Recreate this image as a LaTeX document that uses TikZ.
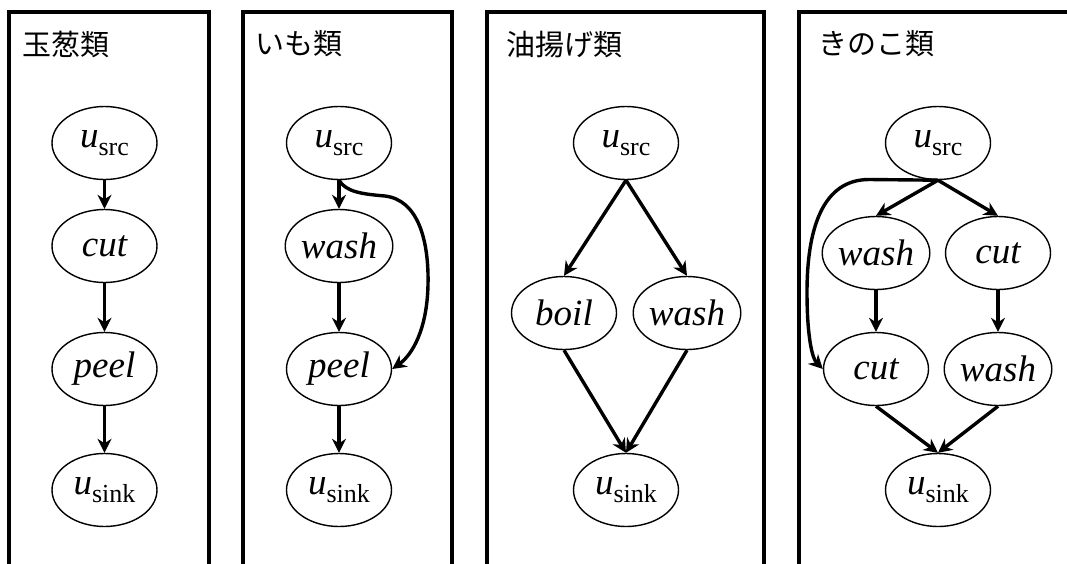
\documentclass[tikz,border=0pt]{standalone}
\usepackage{fontspec}
\setmainfont{Liberation Serif}
\newfontfamily\jpfont{Noto Sans CJK JP}
\usetikzlibrary{shapes.geometric,arrows.meta}
\newcommand{\usub}[1]{\textit{u}\raisebox{-8pt}{\fontsize{26}{26}\selectfont\upshape #1}}
\begin{document}
\begin{tikzpicture}[x=1pt,y=-1pt,
  nd/.style={ellipse, draw, line width=1.4pt, minimum width=105pt, minimum height=73pt, inner sep=0pt, font=\fontsize{37}{37}\selectfont\itshape},
  edge/.style={line width=3.4pt, -{Stealth[length=14pt,width=14pt,inset=4.5pt]}},
  panel/.style={line width=3.2pt},
  ttl/.style={anchor=west, inner sep=0pt, font=\jpfont\fontsize{29}{29}\selectfont}]
\useasboundingbox (0,0) rectangle (1067,563);
\clip (0,0) rectangle (1067,563);
% panels
\draw[panel] (9,575) -- (9,12) -- (209,12) -- (209,575);
\draw[panel] (243,575) -- (243,12) -- (452,12) -- (452,575);
\draw[panel] (487,575) -- (487,12) -- (764,12) -- (764,575);
\draw[panel] (799,575) -- (799,12) -- (1080,12);
% titles
\node[ttl] (t1) at (22,44) {玉葱類};
\node[ttl] (t2) at (255,44) {いも類};
\node[ttl] (t3) at (506,44) {油揚げ類};
\node[ttl] (t4) at (818,44) {きのこ類};
% panel 1
\node[nd] (a1) at (104.5,143) {\usub{src}};
\node[nd] (a2) at (104.5,246) {cut};
\node[nd] (a3) at (104.5,369) {peel};
\node[nd] (a4) at (104.5,490) {\usub{sink}};
\draw[edge] (a1) -- (a2);
\draw[edge] (a2) -- (a3);
\draw[edge] (a3) -- (a4);
% panel 2
\node[nd] (b1) at (339,143) {\usub{src}};
\node[nd] (b2) at (339,246) {wash};
\node[nd] (b3) at (339,369) {peel};
\node[nd] (b4) at (339,490) {\usub{sink}};
\draw[edge] (b1) -- (b2);
\draw[edge] (b2) -- (b3);
\draw[edge] (b3) -- (b4);
\draw[edge] (b1.south) .. controls (346,192) and (362,194) .. (385,196)
  .. controls (418,200) and (429,240) .. (428,285)
  .. controls (427,330) and (412,355) .. (b3.east);
% panel 3
\node[nd] (c1) at (626,143) {\usub{src}};
\node[nd] (c2) at (564,313) {boil};
\node[nd] (c3) at (687,313) {wash};
\node[nd] (c4) at (626,490) {\usub{sink}};
\draw[edge] (c1.south) -- (c2.north);
\draw[edge] (c1.south) -- (c3.north);
\draw[edge] (c2.south) -- (c4.north);
\draw[edge] (c3.south) -- (c4.north);
% panel 4
\node[nd] (d1) at (938,143) {\usub{src}};
\node[nd] (d2) at (876,253) {wash};
\node[nd] (d3) at (998,253) {cut};
\node[nd] (d4) at (876,369) {cut};
\node[nd] (d5) at (998,369) {wash};
\node[nd] (d6) at (938,490) {\usub{sink}};
\draw[edge] (d1.south) -- (d2.north);
\draw[edge] (d1.south) -- (d3.north);
\draw[edge] (d2) -- (d4);
\draw[edge] (d3) -- (d5);
\draw[edge] (d4.south) -- (d6.north);
\draw[edge] (d5.south) -- (d6.north);
\draw[edge] (d1.south) -- (869,179.5) .. controls (822,179.5) and (807,230) .. (807,292)
  .. controls (807,336) and (812,358) .. (d4.west);
\end{tikzpicture}
\end{document}
